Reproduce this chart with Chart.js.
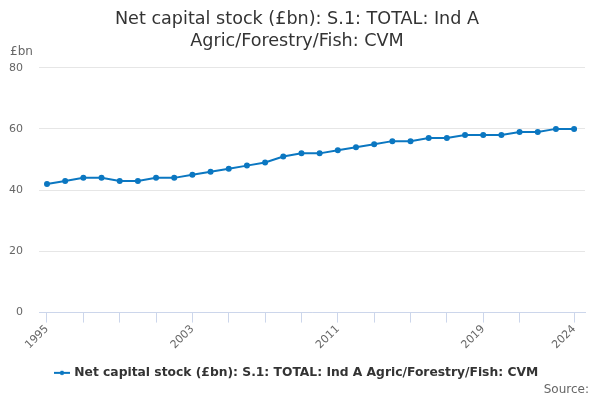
<!DOCTYPE html>
<html>
<head>
<meta charset="utf-8">
<script src="https://cdn.jsdelivr.net/npm/chart.js@4"></script>
<style>
    html, body { margin: 0; padding: 0; background: #fff; }
    #wrap { width: 600px; height: 400px; position: relative; }
</style>
</head>
<body>
<div id="wrap"><canvas id="chart"></canvas></div>
<script>
// Data
const years = [1995, 1996, 1997, 1998, 1999, 2000, 2001, 2002, 2003, 2004,
               2005, 2006, 2007, 2008, 2009, 2010, 2011, 2012, 2013, 2014,
               2015, 2016, 2017, 2018, 2019, 2020, 2021, 2022, 2023, 2024];
const stock = [42, 43, 44, 44, 43, 43, 44, 44, 45, 46,
               47, 48, 49, 51, 52, 52, 53, 54, 55, 56,
               56, 57, 57, 58, 58, 58, 59, 59, 60, 60];
const tickYears = [1995, 1997, 1999, 2001, 2003, 2005, 2007, 2009, 2011, 2013, 2015, 2017, 2019, 2021, 2024];
const labelYears = [1995, 2003, 2011, 2019, 2024];
const yTicks = [0, 20, 40, 60, 80];

const seriesName = 'Net capital stock (£bn): S.1: TOTAL: Ind A Agric/Forestry/Fish: CVM';
const lineColor = '#0b77c1';
const font = 'DejaVu Sans';

// Legend marker: short line with a dot
function legendMarker() {
    const c = document.createElement('canvas');
    c.width = 16; c.height = 8;
    const g = c.getContext('2d');
    g.strokeStyle = lineColor;
    g.lineWidth = 2;
    g.beginPath(); g.moveTo(0, 4); g.lineTo(16, 4); g.stroke();
    g.fillStyle = lineColor;
    g.beginPath(); g.arc(8, 4, 2.2, 0, Math.PI * 2); g.fill();
    return c;
}

// Extra texts: unit label and source
const extras = {
    id: 'extras',
    afterDraw(chart) {
        const ctx = chart.ctx;
        ctx.save();
        ctx.fillStyle = '#666';
        ctx.font = '12px "' + font + '"';
        ctx.textBaseline = 'middle';
        ctx.textAlign = 'left';
        ctx.fillText('£bn', 10, 52);
        ctx.textAlign = 'right';
        ctx.fillText('Source:', 589, 390);
        ctx.restore();
    }
};

new Chart(document.getElementById('chart'), {
    type: 'line',
    data: {
        datasets: [{
            label: seriesName,
            data: years.map((y, i) => ({ x: y, y: stock[i] })),
            borderColor: lineColor,
            backgroundColor: lineColor,
            borderWidth: 2,
            pointRadius: 2,
            pointHoverRadius: 3,
            tension: 0
        }]
    },
    options: {
        responsive: true,
        maintainAspectRatio: false,
        animation: false,
        layout: { padding: { left: 9, right: 15, top: 0, bottom: 11 } },
        scales: {
            x: {
                type: 'linear',
                min: 1994.56,
                max: 2024.6,
                offset: false,
                afterBuildTicks: scale => {
                    scale.ticks = tickYears.map(v => ({ value: v }));
                },
                grid: {
                    drawOnChartArea: false,
                    drawTicks: true,
                    tickLength: 10,
                    tickColor: '#ccd6eb'
                },
                border: { color: '#ccd6eb', width: 1 },
                ticks: {
                    autoSkip: false,
                    maxRotation: 45,
                    minRotation: 45,
                    color: '#666',
                    font: { family: font, size: 11 },
                    padding: 0,
                    callback: v => labelYears.includes(v) ? String(v) : ''
                }
            },
            y: {
                min: 0,
                max: 80,
                afterBuildTicks: scale => {
                    scale.ticks = yTicks.map(v => ({ value: v }));
                },
                // fixed axis width so the plot starts where the reference does
                afterFit: scale => {
                    scale.width = 30;
                },
                grid: { color: '#e6e6e6', drawTicks: false },
                border: { display: false },
                ticks: {
                    color: '#666',
                    font: { family: font, size: 11 },
                    padding: 16
                }
            }
        },
        plugins: {
            title: {
                display: true,
                text: ['Net capital stock (£bn): S.1: TOTAL: Ind A', 'Agric/Forestry/Fish: CVM'],
                color: '#333',
                font: { family: font, size: 17.6, weight: 'normal', lineHeight: 1.24 },
                padding: { top: 9, bottom: 15 }
            },
            legend: {
                position: 'bottom',
                labels: {
                    color: '#333',
                    font: { family: font, size: 12.3, weight: 'bold' },
                    usePointStyle: true,
                    pointStyle: legendMarker(),
                    padding: 15
                }
            },
            tooltip: { enabled: false }
        }
    },
    plugins: [extras]
});
</script>
</body>
</html>
